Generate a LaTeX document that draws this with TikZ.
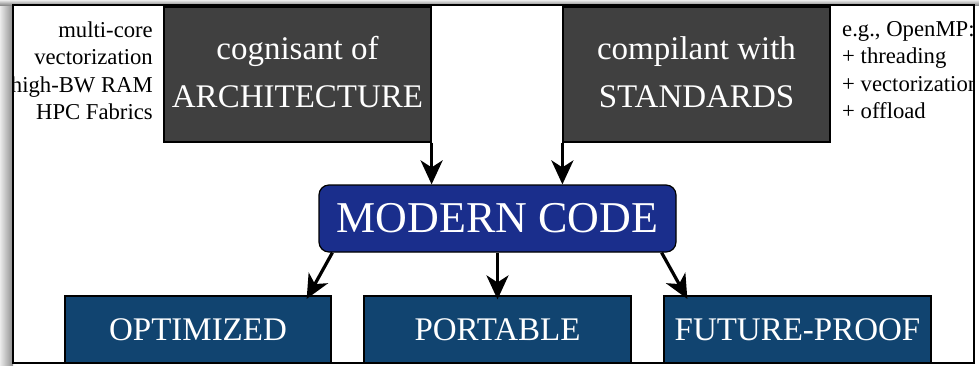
\documentclass[tikz,border=0pt]{standalone}
\usepackage{fontspec}
\setmainfont{Liberation Serif}
\usetikzlibrary{arrows.meta}
\definecolor{boxgray}{HTML}{404040}
\definecolor{mcblue}{HTML}{1A2E8C}
\definecolor{outblue}{HTML}{114470}
\begin{document}
\begin{tikzpicture}[x=1pt,y=-1pt,
  topbox/.style={draw=black,line width=1.2pt,fill=boxgray,text=white,minimum width=267pt,minimum height=135pt,inner sep=0pt,align=center,font=\fontsize{33}{48}\selectfont},
  outbox/.style={draw=black,line width=1.2pt,fill=outblue,text=white,minimum width=267pt,minimum height=68pt,inner sep=0pt,font=\fontsize{33}{40}\selectfont},
  mcbox/.style={draw=black,line width=1.2pt,fill=mcblue,text=white,rounded corners=10pt,minimum width=357pt,minimum height=67pt,inner sep=0pt,font=\fontsize{44}{50}\selectfont},
  side/.style={inner sep=0pt,font=\fontsize{22.7}{27.5}\selectfont},
  arr/.style={line width=3.2pt,-{Stealth[length=24pt,width=22pt,inset=7pt]}}]
\useasboundingbox (0,0) rectangle (979,365);
\shade[left color=black!8,right color=black!45] (0,0) rectangle (13,365);
\shade[top color=black!8,bottom color=black!45] (0,0) rectangle (979,5);
\fill[white] (13,5) rectangle (974,363);
\begin{scope}
\clip (13,5) rectangle (974,363);
\node[topbox] (arch) at (297.5,74.5) {cognisant of\\ARCHITECTURE\rule[-5.5pt]{0pt}{0pt}};
\node[topbox] (stds) at (696.5,74.5) {compilant with\\STANDARDS\rule[-5.5pt]{0pt}{0pt}};
\node[side,anchor=north east,align=right] (hw) at (153,21.5) {multi-core\\vectorization\\high-BW RAM\\HPC Fabrics};
\node[side,anchor=north west,align=left] (omp) at (842,21) {e.g., OpenMP:\\+ threading\\+ vectorization\\+ offload};
\node[mcbox] (mc) at (497.5,218.5) {MODERN CODE};
\node[outbox,minimum width=266pt] (opt) at (198,330) {OPTIMIZED};
\node[outbox] (port) at (497.5,330) {PORTABLE};
\node[outbox] (fp) at (797.5,330) {FUTURE-PROOF};
\draw[arr] (arch.south east) -- (arch.south east |- mc.north);
\draw[arr] (stds.south west) -- (stds.south west |- mc.north);
\draw[arr,shorten >=-4pt] ([xshift=14pt]mc.south west) -- ([xshift=-23pt]opt.north east);
\draw[arr,shorten >=-4pt] (mc.south) -- (port.north);
\draw[arr,shorten >=-4pt] ([xshift=-15pt]mc.south east) -- ([xshift=22pt]fp.north west);
\end{scope}
\draw[line width=2pt] (13,5) rectangle (974,363);
\end{tikzpicture}
\end{document}
